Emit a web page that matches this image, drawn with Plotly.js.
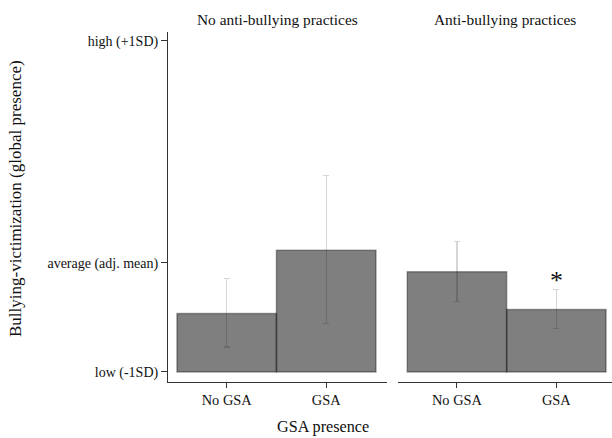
<!DOCTYPE html>
<html>
<head>
<meta charset="utf-8">
<script src="https://cdn.plot.ly/plotly-3.0.1.min.js"></script>
<style>html,body{margin:0;padding:0;background:#fff;}#chart{width:612px;height:438px;}</style>
</head>
<body>
<div id="chart"></div>
<script>
// Values on a scale where low (-1SD) = 0 and high (+1SD) = 2
const categories = ['No GSA', 'GSA'];
const panelTitles = ['No anti-bullying practices', 'Anti-bullying practices'];
const yTickVals = [0, 0.659, 2];
const yTickText = ['low (-1SD)', 'average (adj. mean)', 'high (+1SD)'];

const noPracticeMean = [0.353, 0.736];
const noPracticeCILow = [0.151, 0.293];
const noPracticeCIHigh = [0.565, 1.185];

const practiceMean = [0.605, 0.377];
const practiceCILow = [0.428, 0.262];
const practiceCIHigh = [0.786, 0.498];

const FONT = 'Liberation Serif, Times New Roman, serif';

function errTrace(mean, lo, hi, xa) {
  return {
    type: 'bar', x: categories, y: mean, xaxis: xa, yaxis: 'y',
    marker: {color: 'rgba(0,0,0,0)', line: {width: 0}},
    error_y: {type: 'data', symmetric: false,
      array: hi.map((h, i) => h - mean[i]),
      arrayminus: lo.map((l, i) => mean[i] - l),
      color: '#d6d6d6', thickness: 1.2, width: 3},
    hoverinfo: 'skip', showlegend: false
  };
}
function barTrace(mean, xa) {
  return {
    type: 'bar', x: categories, y: mean, xaxis: xa, yaxis: 'y',
    marker: {color: 'rgba(0,0,0,0.5)', line: {color: 'rgba(0,0,0,0.35)', width: 1.5}},
    showlegend: false
  };
}

const data = [
  errTrace(noPracticeMean, noPracticeCILow, noPracticeCIHigh, 'x'),
  barTrace(noPracticeMean, 'x'),
  errTrace(practiceMean, practiceCILow, practiceCIHigh, 'x2'),
  barTrace(practiceMean, 'x2')
];

const xCommon = {
  type: 'category', showgrid: false, zeroline: false, showline: true,
  linecolor: '#333', linewidth: 1, ticks: 'outside', ticklen: 5, tickcolor: '#333',
  tickfont: {family: FONT, size: 14.4, color: '#111'}, anchor: 'y'
};

const layout = {
  width: 612, height: 438,
  margin: {l: 168, r: 0, t: 32, b: 56, pad: 0},
  paper_bgcolor: '#fff', plot_bgcolor: '#fff',
  barmode: 'overlay', bargap: 0,
  font: {family: FONT, color: '#111'},
  xaxis: Object.assign({}, xCommon, {domain: [0, 0.4926], range: [-0.59, 1.608]}),
  xaxis2: Object.assign({}, xCommon, {domain: [0.5187, 1], range: [-0.59, 1.56]}),
  yaxis: {
    range: [-0.0605, 2.054], showgrid: false, zeroline: false, showline: true,
    linecolor: '#333', linewidth: 1, ticks: 'outside', ticklen: 6, tickcolor: '#333',
    tickvals: yTickVals, ticktext: yTickText,
    tickfont: {family: FONT, size: 14, color: '#111'}
  },
  annotations: [
    {text: panelTitles[0], xref: 'x domain', yref: 'paper', x: 0.5, y: 1.037,
     xanchor: 'center', yanchor: 'middle', showarrow: false, font: {family: FONT, size: 15.4, color: '#111'}},
    {text: panelTitles[1], xref: 'x2 domain', yref: 'paper', x: 0.5, y: 1.037,
     xanchor: 'center', yanchor: 'middle', showarrow: false, font: {family: FONT, size: 15.4, color: '#111'}},
    {text: 'GSA presence', xref: 'paper', yref: 'paper', x: 0.3484, y: -0.1277,
     xanchor: 'center', yanchor: 'middle', showarrow: false, font: {family: FONT, size: 16.2, color: '#111'}},
    {text: 'Bullying-victimization (global presence)', xref: 'paper', yref: 'paper', x: -0.3446, y: 0.5257,
     xanchor: 'center', yanchor: 'middle', textangle: -90, showarrow: false, font: {family: FONT, size: 17, color: '#111'}},
    {text: '*', xref: 'x2', yref: 'y', x: 1, y: practiceCIHigh[1],
     xanchor: 'center', yanchor: 'middle', yshift: 9, showarrow: false, font: {family: FONT, size: 26, color: '#111'}}
  ]
};

Plotly.newPlot('chart', data, layout, {displayModeBar: false, staticPlot: true});
</script>
</body>
</html>
